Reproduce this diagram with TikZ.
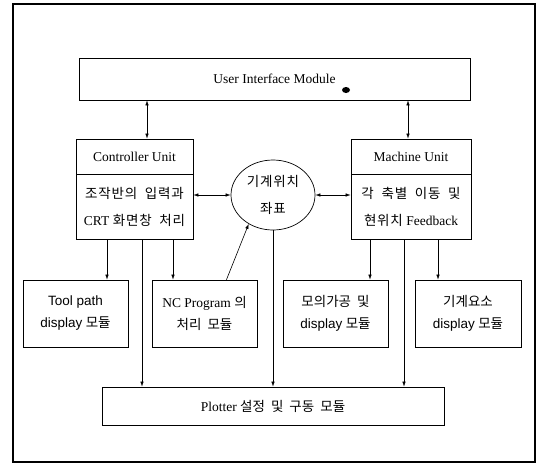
\documentclass[tikz,border=0pt]{standalone}
\usepackage{fontspec}
\setmainfont{Liberation Serif}
\newfontfamily\kr{Noto Sans CJK KR}
\newfontfamily\krw[LetterSpace=6]{Noto Sans CJK KR}
\newfontfamily\sans{Liberation Sans}
\usetikzlibrary{arrows.meta,shapes.geometric}

\tikzset{
  box/.style={draw,line width=0.7pt,inner sep=0pt,align=center},
  unitfont/.style={font=\fontsize{13.5}{27}\selectfont},
  modfont/.style={font=\fontsize{13.5}{22}\selectfont},
  link/.style={line width=0.6pt,-{Latex[length=5pt,width=3.5pt]}},
  dbl/.style={line width=0.6pt,{Latex[length=5pt,width=3.5pt]}-{Latex[length=5pt,width=3.5pt]}}
}

\begin{document}
\begin{tikzpicture}[x=1pt,y=-1pt]
  \useasboundingbox (0,0) rectangle (543,464);
  \draw[line width=1.1pt] (13,4) rectangle (535,462);

  % top level
  \node[box,unitfont,minimum width=391,minimum height=42] (ui) at (274.5,79) {User Interface Module};
  \fill (346,90) ellipse [x radius=4, y radius=3];

  % the two units
  \node[box,unitfont,minimum width=117,minimum height=35] (ctrl) at (134.5,156.5) {Controller Unit};
  \node[box,unitfont,minimum width=117,minimum height=65] (ctrlbody) at (134.5,206.5)
    {{\krw 조작반의 \ 입력과}\\CRT {\krw 화면창 \ 처리}};
  \node[box,unitfont,minimum width=120,minimum height=35] (mach) at (411,156.5) {Machine Unit};
  \node[box,unitfont,minimum width=120,minimum height=65] (machbody) at (411,206.5)
    {{\krw 각 \ 축별 \ 이동 \ 및}\\{\krw 현위치} Feedback};
  \node[draw,ellipse,line width=0.7pt,inner sep=0pt,align=center,unitfont,minimum width=84,minimum height=70] (pos) at (273,195)
    {{\krw 기계위치}\\{\krw 좌표}};

  % modules
  \node[box,modfont,minimum width=105,minimum height=67] (tool) at (75.5,313.5)
    {{\sans Tool path}\\{\sans display} {\kr 모듈}};
  \node[box,modfont,minimum width=105,minimum height=67] (nc) at (204.5,313.5)
    {NC Program {\kr 의}\\{\kr 처리 \ 모듈}};
  \node[box,modfont,minimum width=105,minimum height=67] (sim) at (335.5,313.5)
    {{\kr 모의가공 \ 및}\\{\sans display} {\kr 모듈}};
  \node[box,modfont,minimum width=106,minimum height=67] (elem) at (468,313.5)
    {{\kr 기계요소}\\{\sans display} {\kr 모듈}};
  \node[box,unitfont,minimum width=342,minimum height=38] (plot) at (273,406)
    {Plotter {\kr 설정 \ 및 \ 구동 \ 모듈}};

  % connectors
  \draw[dbl] (147,0 |- ui.south) -- (147,0 |- ctrl.north);
  \draw[dbl] (408,0 |- ui.south) -- (408,0 |- mach.north);
  \draw[dbl] (ctrlbody.east |- pos.west) -- (pos.west);
  \draw[dbl] (pos.east) -- (machbody.west |- pos.east);

  \draw[link] (107,0 |- ctrlbody.south) -- (107,0 |- tool.north);
  \draw[link] (142,0 |- ctrlbody.south) -- (142,0 |- plot.north);
  \draw[link] (173,0 |- ctrlbody.south) -- (173,0 |- nc.north);
  \draw[link] ([xshift=22pt]nc.north) -- (pos.230);
  \draw[link] (pos.south) -- (pos.south |- plot.north);
  \draw[link] (370,0 |- machbody.south) -- (370,0 |- sim.north);
  \draw[link] (404,0 |- machbody.south) -- (404,0 |- plot.north);
  \draw[link] (438,0 |- machbody.south) -- (438,0 |- elem.north);
\end{tikzpicture}
\end{document}
